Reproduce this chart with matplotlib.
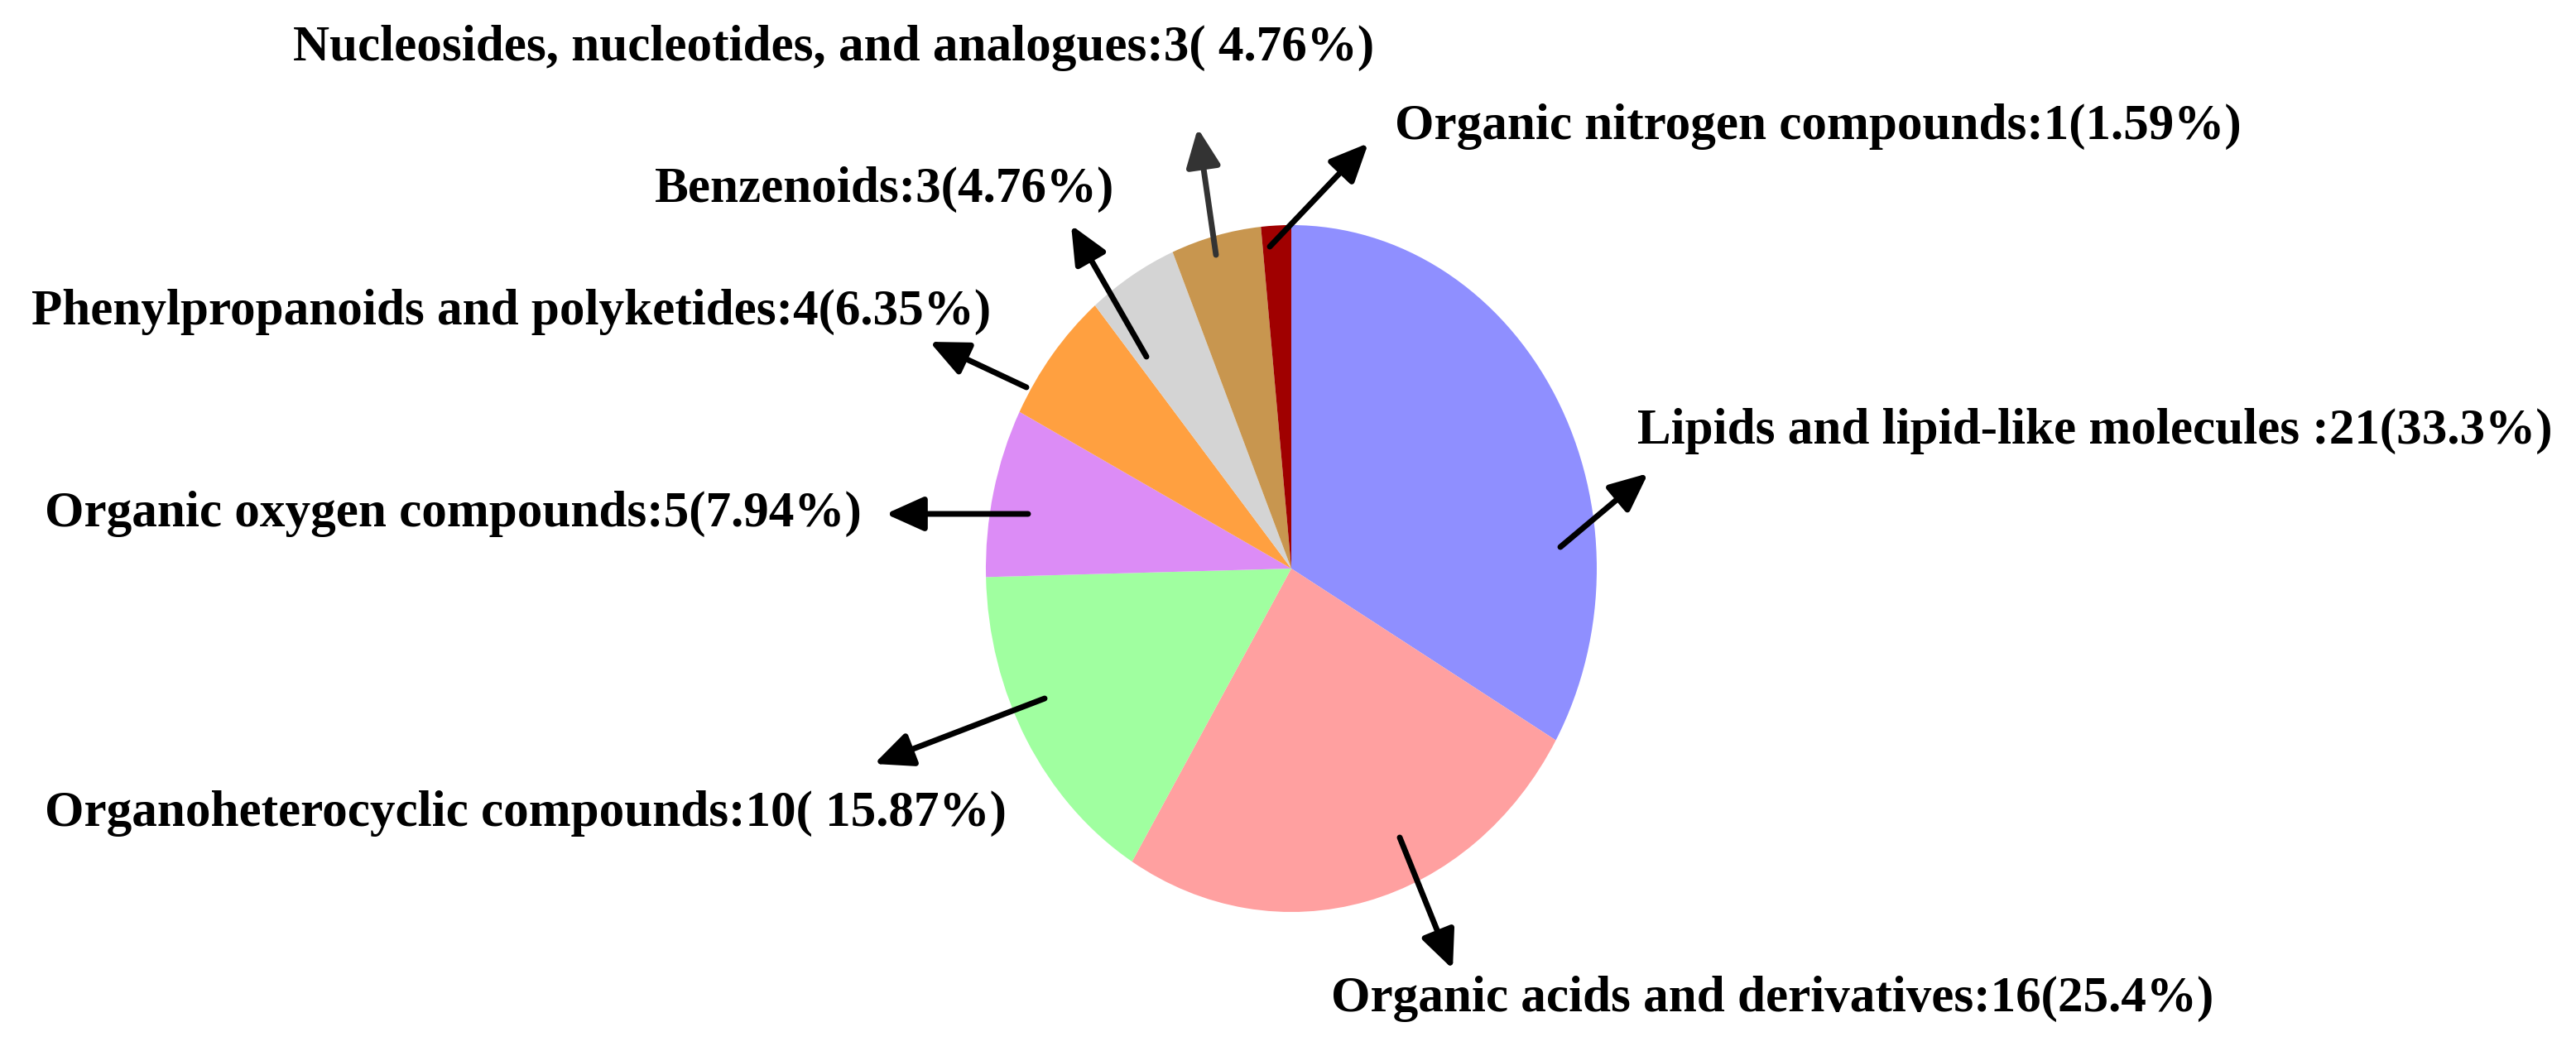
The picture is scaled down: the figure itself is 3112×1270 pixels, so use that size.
import matplotlib
matplotlib.use('Agg')
import matplotlib.pyplot as plt
import numpy as np

# %% data
categories = ['Lipids and lipid-like molecules ', 'Organic acids and derivatives',
              'Organoheterocyclic compounds', 'Organic oxygen compounds',
              'Phenylpropanoids and polyketides', 'Benzenoids',
              'Nucleosides, nucleotides, and analogues', 'Organic nitrogen compounds']
counts = [21, 16, 10, 5, 4, 3, 3, 1]
percents = ['33.3%', '25.4%', ' 15.87%', '7.94%', '6.35%', '4.76%', ' 4.76%', '1.59%']
colors = ['#8f8fff', '#ffa0a0', '#a0ffa0', '#dc8cf6', '#ffa040', '#d4d4d4', '#c8964f', '#a00000']

# %% layout (pixels from top-left of the 3112x1270 image)
W, H = 3112, 1270
cx, cy = 1560, 687        # pie centre
ra, rb = 369, 415         # semi axes (pie is drawn slightly tall)

# label text left edge / vertical centre
label_pos = [(1978, 521), (1608, 1207), (54, 983), (54, 621),
             (38, 377), (791, 229), (354, 58), (1685, 153)]
# arrow tail (in wedge) -> head (near label)
arrow_pos = [((1885, 661), (1991, 572)), ((1691, 1012), (1755, 1171)),
             ((1262, 844), (1056, 923)), ((1242, 621), (1070, 621)),
             ((1240, 468), (1123, 413)), ((1385, 431), (1294, 272)),
             ((1469, 308), (1447, 155)), ((1534, 298), (1653, 173))]
arrow_col = ['black', 'black', 'black', 'black', 'black', 'black', '#333333', 'black']

fig = plt.figure(figsize=(W / 100, H / 100), dpi=100)
ax = fig.add_axes([0, 0, 1, 1])
ax.pie(counts, colors=colors, startangle=90, counterclock=False,
       radius=1, center=(0, 0), wedgeprops=dict(linewidth=0))
ax.set_aspect('auto')
ax.set_xlim(-cx / ra, (W - cx) / ra)
ax.set_ylim(-(H - cy) / rb, cy / rb)
ax.axis('off')

for i, name in enumerate(categories):
    txt = '{}:{}({})'.format(name, counts[i], percents[i])
    x, y = label_pos[i]
    fig.text(x / W, 1 - y / H, txt, ha='left', va='center',
             fontsize=44, fontweight='bold', family='Liberation Serif')

for (t, h), c in zip(arrow_pos, arrow_col):
    ax.annotate('', xy=(h[0], H - h[1]), xycoords='figure pixels',
                xytext=(t[0], H - t[1]), textcoords='figure pixels',
                arrowprops=dict(arrowstyle='-|>,head_length=1.0,head_width=0.45',
                                mutation_scale=28, lw=5, color=c,
                                shrinkA=0, shrinkB=0))

plt.savefig('out.png', dpi=100)
